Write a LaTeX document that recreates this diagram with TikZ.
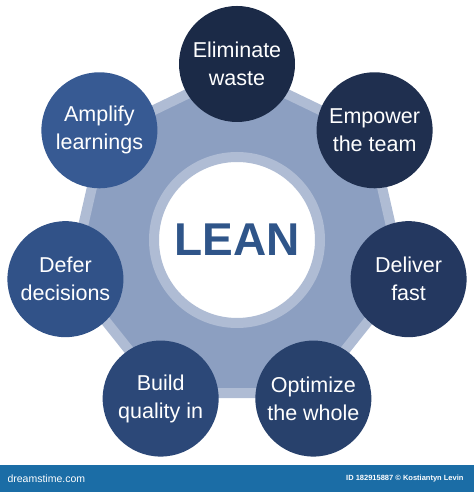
\documentclass[tikz,border=0pt]{standalone}
\usepackage{fontspec}
\setmainfont{Liberation Sans}
\usetikzlibrary{positioning}

\definecolor{hepfill}{HTML}{8C9FC1}
\definecolor{hepring}{HTML}{AFBCD4}
\definecolor{leantext}{HTML}{2F5589}
\definecolor{navyA}{HTML}{1B2A47}
\definecolor{navyB}{HTML}{1F2F4F}
\definecolor{navyC}{HTML}{243860}
\definecolor{navyD}{HTML}{28416C}
\definecolor{navyE}{HTML}{2C4878}
\definecolor{navyF}{HTML}{315288}
\definecolor{navyG}{HTML}{375A93}
\definecolor{barblue}{HTML}{1B6DA6}

\begin{document}
\begin{tikzpicture}[
  x=1pt, y=1pt,
  principle/.style={circle, inner sep=0pt, minimum size=116pt, text=white, align=center, font=\fontsize{21.5}{28}\selectfont},
  hub/.style={circle, inner sep=0pt, minimum size=166pt, fill=white, draw=hepring, line width=10pt},
]
  \useasboundingbox (0,0) rectangle (474,492);
  \coordinate (c) at (237,252);

  % heptagon behind everything
  \draw[shift={(237,252)}, draw=hepring, fill=hepfill, line width=10pt, line join=round]
    (90:170) \foreach \k in {1,...,6} { -- (90+\k*360/7:170) } -- cycle;

  \node[hub] (lean) at (c) {\fontsize{46}{46}\selectfont\bfseries\color{leantext}LEAN};

  % the seven principles, clockwise from the top
  \node[principle, fill=navyA] (waste) at ([shift={(90:176)}]c) {Eliminate\\waste};
  \node[principle, fill=navyB] (team) at ([shift={(38.57:176)}]c) {Empower\\the team};
  \node[principle, fill=navyC] (deliver) at ([shift={(-12.86:176)}]c) {Deliver\\fast};
  \node[principle, fill=navyD] (whole) at ([shift={(-64.29:176)}]c) {Optimize\\the whole};
  \node[principle, fill=navyE] (quality) at ([shift={(-115.71:176)}]c) {Build\\quality in};
  \node[principle, fill=navyF] (defer) at ([shift={(-167.14:176)}]c) {Defer\\decisions};
  \node[principle, fill=navyG] (learn) at ([shift={(141.43:176)}]c) {Amplify\\learnings};

  % bottom bar
  \fill[barblue] (0,0) rectangle (474,27);
  \node[anchor=west, text=white, font=\fontsize{10.5}{10.5}\selectfont] (brand) at (4,13.5) {dreamstime.com};
  \node[anchor=east, text=white, font=\fontsize{7.5}{7.5}\selectfont\bfseries] (credit) at (467,13.5) {ID 182915887 © Kostiantyn Levin};
\end{tikzpicture}
\end{document}
